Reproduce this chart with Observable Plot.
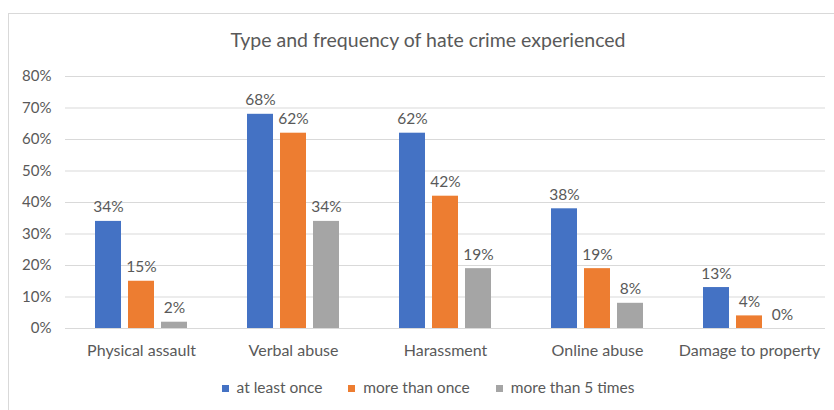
<!DOCTYPE html>
<html>
<head>
<meta charset="utf-8">
<script src="https://cdn.jsdelivr.net/npm/d3@7"></script>
<script src="https://cdn.jsdelivr.net/npm/@observablehq/plot@0.6"></script>
<style>
  body { margin: 0; background: #fff; font-family: Lato, "Open Sans", sans-serif; color: #595959; }
  #frame { position: absolute; left: 8px; top: 13px; width: 840px; height: 420px; border: 1px solid #d9d9d9; box-sizing: border-box; }
  #title { position: absolute; left: 0; width: 856px; top: 28px; text-align: center; font-size: 19.5px; color: #595959; }
  #chart { position: absolute; left: 0; top: 60px; }
  #legend { position: absolute; left: 0; width: 856px; top: 378px; text-align: center; font-size: 15.5px; color: #595959; }
  .item { display: inline-block; margin: 0 13px; }
  .sw { display: inline-block; width: 7px; height: 7px; margin-right: 8px; vertical-align: 1px; }
</style>
</head>
<body>
<div id="frame"></div>
<div id="title">Type and frequency of hate crime experienced</div>
<div id="chart"></div>
<div id="legend"></div>
<script>
const categories = ["Physical assault", "Verbal abuse", "Harassment", "Online abuse", "Damage to property"];
const seriesNames = ["at least once", "more than once", "more than 5 times"];
const seriesColors = ["#4472C4", "#ED7D31", "#A5A5A5"];
const atLeastOnce = [34, 68, 62, 38, 13];
const moreThanOnce = [15, 62, 42, 19, 4];
const moreThan5Times = [2, 34, 19, 8, 0];
const yTicks = [0, 10, 20, 30, 40, 50, 60, 70, 80];

const seriesValues = [atLeastOnce, moreThanOnce, moreThan5Times];
const data = [];
categories.forEach((c, i) => {
  seriesNames.forEach((s, j) => {
    data.push({category: c, series: s, value: seriesValues[j][i] / 100});
  });
});

const chart = Plot.plot({
  width: 834,
  height: 300,
  marginLeft: 65,
  marginRight: 9,
  marginTop: 16,
  marginBottom: 32,
  style: {fontFamily: "Lato, 'Open Sans', sans-serif", fontSize: "15px", color: "#595959", background: "transparent"},
  fx: {domain: categories, padding: 0, label: null},
  x: {domain: seriesNames, paddingInner: 0.212, paddingOuter: 0.909, axis: null},
  y: {domain: [0, 0.8], label: null},
  color: {domain: seriesNames, range: seriesColors},
  marks: [
    Plot.gridY(yTicks.map(t => t / 100), {stroke: "#d9d9d9", strokeOpacity: 1, strokeWidth: 1}),
    Plot.axisY(yTicks.map(t => t / 100), {tickSize: 0, tickPadding: 14, tickFormat: d => Math.round(d * 100) + "%", label: null, fontSize: 15}),
    Plot.axisFx({anchor: "bottom", tickSize: 0, tickPadding: 16, label: null, fontSize: 16}),
    Plot.barY(data, {fx: "category", x: "series", y: "value", fill: "series"}),
    Plot.text(data, {fx: "category", x: "series", y: "value", text: d => Math.round(d.value * 100) + "%", lineAnchor: "bottom", dy: -9, fill: "#595959", fontSize: 15.5})
  ]
});
document.getElementById("chart").appendChild(chart);

const legend = document.getElementById("legend");
seriesNames.forEach((s, i) => {
  const item = document.createElement("span");
  item.className = "item";
  const sw = document.createElement("span");
  sw.className = "sw";
  sw.style.background = seriesColors[i];
  item.appendChild(sw);
  item.appendChild(document.createTextNode(s));
  legend.appendChild(item);
});
</script>
</body>
</html>
